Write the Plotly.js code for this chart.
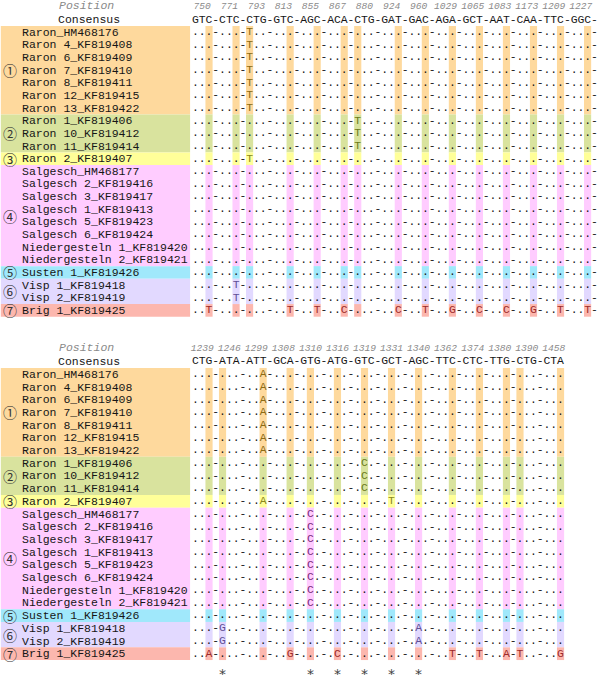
<!DOCTYPE html>
<html><head><meta charset="utf-8">
<script src="https://cdn.plot.ly/plotly-3.0.1.min.js"></script>
<style>html,body{margin:0;padding:0;background:#fff}</style>
</head><body><div id="chart" style="width:600px;height:675px"></div>
<script>
// ---------- data ----------
const sampleLabels = [
  'Raron_HM468176','Raron 4_KF819408','Raron 6_KF819409','Raron 7_KF819410','Raron 8_KF819411',
  'Raron 12_KF819415','Raron 13_KF819422',
  'Raron 1_KF819406','Raron 10_KF819412','Raron 11_KF819414',
  'Raron 2_KF819407',
  'Salgesch_HM468177','Salgesch 2_KF819416','Salgesch 3_KF819417','Salgesch 1_KF819413',
  'Salgesch 5_KF819423','Salgesch 6_KF819424','Niedergesteln 1_KF819420','Niedergesteln 2_KF819421',
  'Susten 1_KF819426',
  'Visp 1_KF819418','Visp 2_KF819419',
  'Brig 1_KF819425'
];
const sampleGroup = [1,1,1,1,1,1,1,2,2,2,3,4,4,4,4,4,4,4,4,5,6,6,7];
const groupMarks = ['①','②','③','④','⑤','⑥','⑦'];
const groupFill = ['#fed99d','#d9e39e','#ffff99','#ffccff','#a0e8fb','#e2d9ff','#fcb7ae'];
const groupInk  = ['#8c6a14','#6b7a1c','#8a861c','#7a2c7a','#1c6a8a','#5e4e94','#9c2a2a'];

const topConsensus = 'GTC-CTC-CTG-GTC-AGC-ACA-CTG-GAT-GAC-AGA-GCT-AAT-CAA-TTC-GGC-';
const topPositions = [750,771,793,813,855,867,880,924,960,1029,1065,1083,1173,1209,1227];
const topCodonPos  = [3,3,1,3,3,3,1,3,3,3,3,3,3,3,3];
const topVariants  = [
  '..T............',
  '......T........',
  '..T............',
  '...............',
  '...............',
  '.T.............',
  'T..TTC.CTGCCGTT'
];
const topStars = [];

const botConsensus = 'CTG-ATA-ATT-GCA-GTG-ATG-GTC-GCT-AGC-TTC-CTC-TTG-CTG-CTA';
const botPositions = [1239,1246,1299,1308,1310,1316,1319,1331,1340,1362,1374,1380,1390,1458];
const botCodonPos  = [3,1,3,3,2,2,2,2,2,3,3,3,1,3];
const botVariants  = [
  '..A...........',
  '......C.......',
  '..A....T......',
  '....C.........',
  '..............',
  '.G......A.....',
  'A..G.C...TTATG'
];
const botStars = [1246,1310,1316,1319,1331,1340];

// ---------- drawing ----------
const MONO = '"Liberation Mono", "Courier New", monospace';
const CJK = '"Noto Sans CJK JP", "Noto Sans CJK SC", sans-serif';
const INK = '#161616';
const traces = [], shapes = [], annotations = [];

const groups = [];
sampleGroup.forEach((g, r) => {
  if (!groups[g-1]) groups[g-1] = {first: r, last: r};
  groups[g-1].last = r;
});

function panel(cons, positions, codonPos, variants, stars, yaxis) {
  const yref = yaxis === 'y' ? 'y' : 'y2';
  const cols = positions.map((p, k) => 4*k + codonPos[k] - 1);
  groups.forEach((gr, gi) => {
    shapes.push({type:'rect', xref:'x', yref, layer:'below', x0:-28.8, x1:-0.8,
      y0: gr.first-0.5, y1: gr.last+0.5, fillcolor: groupFill[gi], line:{width:0}});
    cols.forEach(c => shapes.push({type:'rect', xref:'x', yref, layer:'below',
      x0: c-0.53, x1: c+0.53, y0: gr.first-0.5, y1: gr.last+0.5,
      fillcolor: groupFill[gi], line:{width:0}}));
    annotations.push({xref:'x', yref, x:-27.4, y:(gr.first+gr.last)/2, text: groupMarks[gi],
      showarrow:false, xanchor:'center', yanchor:'middle', font:{family:CJK, size:14, color:'#333'},
      borderpad:0, borderwidth:0});
  });
  sampleLabels.forEach((lab, r) => annotations.push({xref:'x', yref, x:-25.6, y:r, text: lab,
    showarrow:false, xanchor:'left', yanchor:'middle', font:{family:MONO, size:11.5, color:INK},
    borderpad:0, borderwidth:0}));
  annotations.push({xref:'x', yref, x:-20.4, y:-1, text:'Consensus', showarrow:false,
    xanchor:'left', yanchor:'middle', font:{family:MONO, size:11.5, color:INK}, borderpad:0, borderwidth:0});
  annotations.push({xref:'x', yref, x:-20.15, y:-2.1, text:'Position', showarrow:false,
    xanchor:'left', yanchor:'middle', font:{family:MONO, size:11.5, color:'#8a8a8a', style:'italic'}, borderpad:0, borderwidth:0});
  const cx = [], cy = [], ct = [];
  cons.split('').forEach((ch, i) => { cx.push(i); cy.push(-1); ct.push(ch); });
  traces.push({type:'scatter', mode:'text', x:cx, y:cy, text:ct, yaxis, hoverinfo:'skip',
    textposition:'middle center', textfont:{family:MONO, size:11.4, color:INK}, showlegend:false});
  traces.push({type:'scatter', mode:'text', x:positions.map((p,k)=>4*k+1), y:positions.map(()=>-2.05),
    text:positions.map(String), yaxis, hoverinfo:'skip', textposition:'middle center',
    textfont:{family:MONO, size:9.6, color:'#8a8a8a', style:'italic'}, showlegend:false});
  const bx=[],by=[],bt=[], vx=[],vy=[],vt=[],vc=[];
  sampleGroup.forEach((g, r) => {
    const v = variants[g-1];
    cons.split('').forEach((ch, i) => {
      if (ch === '-') { bx.push(i); by.push(r); bt.push('-'); return; }
      const k = cols.indexOf(i);
      if (k >= 0 && v[k] !== '.') { vx.push(i); vy.push(r); vt.push(v[k]); vc.push(groupInk[g-1]); }
      else { bx.push(i); by.push(r); bt.push('.'); }
    });
  });
  traces.push({type:'scatter', mode:'text', x:bx, y:by, text:bt, yaxis, hoverinfo:'skip',
    textposition:'middle center', textfont:{family:MONO, size:11.4, color:INK}, showlegend:false});
  traces.push({type:'scatter', mode:'text', x:vx, y:vy, text:vt, yaxis, hoverinfo:'skip',
    textposition:'middle center', textfont:{family:MONO, size:11.4, color:vc}, showlegend:false});
  if (stars.length) {
    const sx = stars.map(s => cols[positions.indexOf(s)]);
    traces.push({type:'scatter', mode:'text', x:sx, y:sx.map(()=>23.75), text:sx.map(()=>'*'), yaxis,
      hoverinfo:'skip', textposition:'middle center', textfont:{family:'"DejaVu Sans", sans-serif', size:14, color:'#444'}, showlegend:false});
  }
}

panel(topConsensus, topPositions, topCodonPos, topVariants, topStars, 'y');
panel(botConsensus, botPositions, botCodonPos, botVariants, botStars, 'y2');

const W = 6.76, X0 = 195.5;
const layout = {
  width:600, height:675, margin:{l:0,r:0,t:0,b:0},
  paper_bgcolor:'#fff', plot_bgcolor:'#fff', showlegend:false,
  xaxis:{range:[-X0/W, (600-X0)/W], visible:false, fixedrange:true},
  yaxis:{range:[(675-32.3)/12.64, -32.3/12.64], visible:false, fixedrange:true},
  yaxis2:{range:[(675-374.3)/12.7, -374.3/12.7], visible:false, fixedrange:true, overlaying:'y'},
  shapes, annotations
};
Plotly.newPlot('chart', traces, layout, {staticPlot:true, displayModeBar:false});
</script></body></html>
